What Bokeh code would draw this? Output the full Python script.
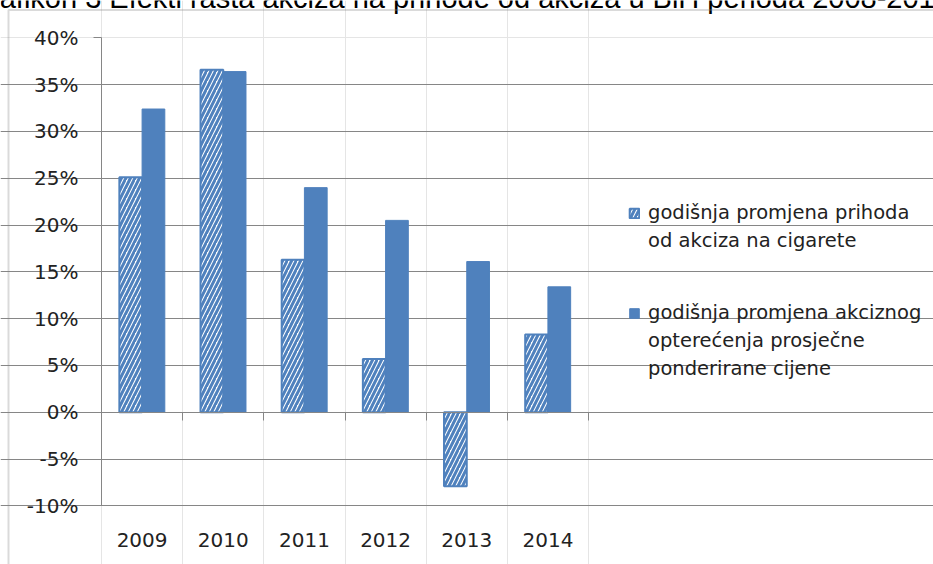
from bokeh.plotting import figure
from bokeh.models import (Range1d, LinearAxis, FixedTicker, CustomJSTickFormatter,
                          Legend, LegendItem, Label, BoxAnnotation, ColumnDataSource, Grid,
                          PrintfTickFormatter)
from bokeh.transform import dodge
from bokeh.embed import file_html
from bokeh.resources import INLINE

years = ["2009", "2010", "2011", "2012", "2013", "2014"]
revenue_change = [25.1, 36.6, 16.3, 5.7, -7.9, 8.3]
burden_change = [32.4, 36.4, 24.0, 20.5, 16.1, 13.4]
y_ticks = [-10, -5, 0, 5, 10, 15, 20, 25, 30, 35, 40]
label_rev = ["godišnja promjena prihoda", "od akciza na cigarete"]
label_burden = ["godišnja promjena akciznog", "opterećenja prosječne", "ponderirane cijene"]
title_text = "Grafikon 3 Efekti rasta akciza na prihode od akciza u BiH perioda 2008-2014"

BLUE = "#4f81bd"
GRAY = "#868686"
TXT = "#222222"
FONT = "DejaVu Sans"

W, H = 933, 564
# pixel placement of the value area inside the canvas
PX_L, PX_R, PX_T, PX_B = 101, 588, 37.4, 505.3

n = len(years)
centers = [i + 0.5 for i in range(n)]
y_lo, y_hi = y_ticks[0], y_ticks[-1]
sx = (PX_R - PX_L) / n
sy = (PX_B - PX_T) / (y_hi - y_lo)
x_range = Range1d(-PX_L / sx, n + (W - PX_R) / sx)
y_range = Range1d(y_lo - (H - PX_B) / sy, y_hi + PX_T / sy)


def dx(px):
    return x_range.start + px / sx


def dy(py):
    return y_range.end - py / sy


p = figure(x_range=x_range, y_range=y_range, width=W, height=H,
           output_backend="svg", toolbar_location=None,
           x_axis_location=None, y_axis_location=None,
           min_border=0, outline_line_color=None)

p.add_layout(Grid(dimension=1, ticker=FixedTicker(ticks=y_ticks[:-1]), bounds=(0, n),
                  grid_line_color=GRAY, grid_line_width=1))

src = ColumnDataSource(dict(pos=centers, year=years, rev=revenue_change, burden=burden_change))
r1 = p.vbar(x=dodge("pos", -0.14), top="rev", width=0.28, source=src,
            fill_color="white", line_color=BLUE, line_width=2,
            hatch_pattern="/", hatch_color=BLUE, hatch_scale=9, hatch_weight=3)
r2 = p.vbar(x=dodge("pos", 0.14), top="burden", width=0.28, source=src,
            fill_color=BLUE, line_color=BLUE, line_width=1)

yaxis = LinearAxis(fixed_location=0, bounds=(y_lo, y_hi),
                   ticker=FixedTicker(ticks=y_ticks), formatter=PrintfTickFormatter(format="%d%%"),
                   axis_line_color=GRAY, major_tick_line_color=GRAY, major_tick_out=8, major_tick_in=0,
                   minor_tick_line_color=None, major_label_standoff=15,
                   major_label_text_font=FONT, major_label_text_font_size="20px",
                   major_label_text_color=TXT)
p.add_layout(yaxis, "left")

zaxis = LinearAxis(fixed_location=0, bounds=(0, n), ticker=FixedTicker(ticks=list(range(n + 1))),
                   formatter=CustomJSTickFormatter(code="return '';"),
                   axis_line_color=GRAY, major_tick_line_color=GRAY, major_tick_in=0, major_tick_out=8,
                   minor_tick_line_color=None)
p.add_layout(zaxis, "below")

xaxis = LinearAxis(fixed_location=y_lo, bounds=(0, n), ticker=FixedTicker(ticks=centers),
                   formatter=CustomJSTickFormatter(args=dict(years=years),
                                                   code="return years[Math.floor(tick)];"),
                   axis_line_color=None, major_tick_line_color=None, minor_tick_line_color=None,
                   major_label_standoff=21, major_label_text_font=FONT,
                   major_label_text_font_size="20px", major_label_text_color=TXT)
p.add_layout(xaxis, "below")

legend_style = dict(orientation="vertical", border_line_color=None, background_fill_alpha=0,
                    label_text_font=FONT, label_text_font_size="19.5px", label_text_color=TXT,
                    glyph_width=12, glyph_height=12, label_height=22, spacing=5,
                    padding=0, margin=0, label_standoff=8)
legend1 = Legend(items=[LegendItem(label=label_rev[0], renderers=[r1])] +
                       [LegendItem(label=t, renderers=[]) for t in label_rev[1:]],
                 location=(628, 312), **legend_style)
legend2 = Legend(items=[LegendItem(label=label_burden[0], renderers=[r2])] +
                       [LegendItem(label=t, renderers=[]) for t in label_burden[1:]],
                 location=(628, 184), **legend_style)
p.add_layout(legend1, "center")
p.add_layout(legend2, "center")

p.add_layout(Label(x=dx(-33), y=dy(-3), text=title_text,
                   text_font="Liberation Sans", text_font_size="29px",
                   text_baseline="alphabetic", text_color="black"))
p.add_layout(BoxAnnotation(left=dx(8), right=dx(1000), top=dy(9.5), bottom=dy(1000),
                           fill_alpha=0, line_color=GRAY, line_width=2, level="overlay"))

open("out.html", "w").write(file_html(p, INLINE))
